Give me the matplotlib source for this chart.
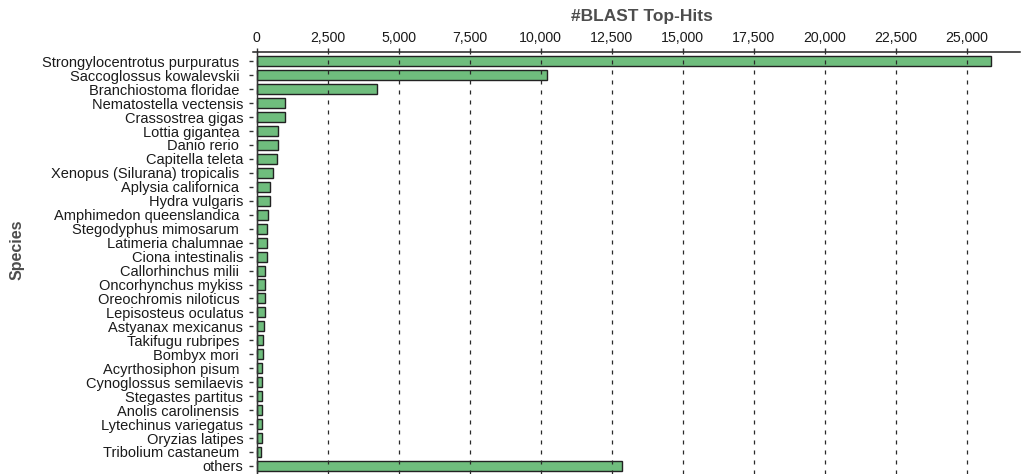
import matplotlib
matplotlib.use("Agg")
import matplotlib.pyplot as plt
from matplotlib.ticker import FixedLocator, FuncFormatter

plt.rcParams["font.family"] = ["Liberation Sans", "DejaVu Sans"]
plt.rcParams["lines.scale_dashes"] = False

species = [
    "Strongylocentrotus purpuratus ", "Saccoglossus kowalevskii ", "Branchiostoma floridae ",
    "Nematostella vectensis", "Crassostrea gigas", "Lottia gigantea ", "Danio rerio ",
    "Capitella teleta", "Xenopus (Silurana) tropicalis ", "Aplysia californica ",
    "Hydra vulgaris", "Amphimedon queenslandica ", "Stegodyphus mimosarum ",
    "Latimeria chalumnae", "Ciona intestinalis", "Callorhinchus milii ",
    "Oncorhynchus mykiss", "Oreochromis niloticus ", "Lepisosteus oculatus",
    "Astyanax mexicanus", "Takifugu rubripes ", "Bombyx mori ", "Acyrthosiphon pisum ",
    "Cynoglossus semilaevis", "Stegastes partitus", "Anolis carolinensis ",
    "Lytechinus variegatus", "Oryzias latipes", "Tribolium castaneum ", "others",
]
top_hits = [
    25850, 10210, 4230, 990, 985, 750, 740, 730, 565, 460,
    455, 410, 375, 365, 360, 305, 305, 300, 282, 258,
    211, 205, 200, 187, 185, 180, 178, 175, 153, 12850,
]
x_ticks = [0, 2500, 5000, 7500, 10000, 12500, 15000, 17500, 20000, 22500, 25000]

W, H = 1025, 474
fig = plt.figure(figsize=(W / 100, H / 100), dpi=100)
left_px, right_px, top_px = 253, 1020, 51.5
ax = fig.add_axes([left_px / W, 0, (right_px - left_px) / W, (H - top_px) / H])

text_col = "#1a1a1a"
bar_fill = "#6fbd7d"

rows = list(range(len(species)))
ax.barh(rows, top_hits, height=0.72, color=bar_fill, edgecolor="#222222",
        linewidth=1.0, zorder=2)

# dashed reference lines at every tick, drawn over the bars
for xv in x_ticks:
    ax.axvline(xv, color="#2a2a2a", linewidth=0.9, dashes=(2.9, 4.3), zorder=3)
# solid baseline at zero
ax.axvline(0, color="#333333", linewidth=1.0, zorder=4)

ax.set_xlim(-130, 26870)
ax.set_ylim(29.58, -0.70)

ax.xaxis.set_ticks_position("top")
ax.xaxis.set_label_position("top")
ax.xaxis.set_major_locator(FixedLocator(x_ticks))
ax.xaxis.set_major_formatter(FuncFormatter(lambda v, p: f"{int(v):,}"))
ax.tick_params(axis="x", direction="out", length=3, width=1, color="#333333",
               pad=1.5, labelsize=10.2, labelcolor=text_col)

ax.set_yticks(rows)
ax.set_yticklabels(species)
ax.tick_params(axis="y", direction="out", length=3, width=1, color="#333333",
               pad=4, labelsize=10.5, labelcolor=text_col)

for side in ("left", "right", "bottom"):
    ax.spines[side].set_visible(False)
ax.spines["top"].set_color("#222222")
ax.spines["top"].set_linewidth(1.1)

ax.set_xlabel("#BLAST Top-Hits", fontsize=12.5, fontweight="bold", color="#4d4d4d")
ax.xaxis.label.set_va("center")
ax.xaxis.set_label_coords((642 - left_px) / (right_px - left_px), (H - 16) / (H - top_px))

ax.set_ylabel("Species", fontsize=11.5, fontweight="bold", color="#4d4d4d")
ax.yaxis.label.set_va("center")
ax.yaxis.set_label_coords((17 - left_px) / (right_px - left_px), (H - 250) / (H - top_px))

fig.savefig("out.png", dpi=100)
